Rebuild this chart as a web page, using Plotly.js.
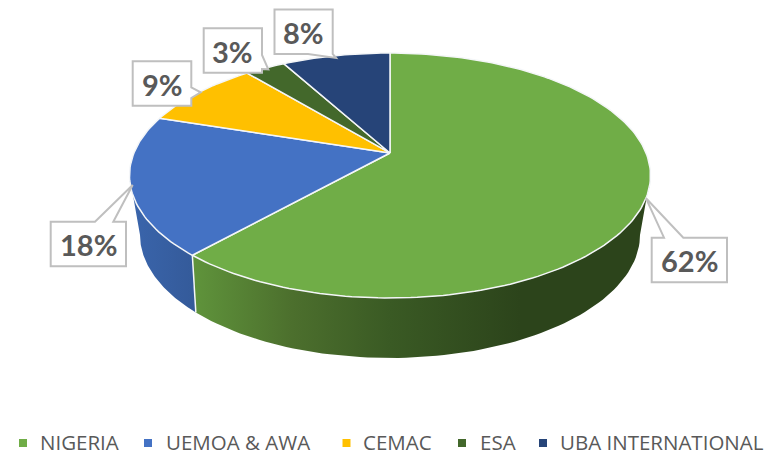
<!DOCTYPE html>
<html><head><meta charset="utf-8">
<script src="https://cdn.plot.ly/plotly-3.0.1.min.js"></script>
<style>html,body{margin:0;padding:0;background:#fff}#c{width:767px;height:452px}</style>
</head><body><div id="c"></div>
<script>
const categories = ["NIGERIA","UEMOA & AWA","CEMAC","ESA","UBA INTERNATIONAL"];
const shares = [61.6,18.4,9,3,8];
const colors = ["#70AD47","#4472C4","#FFC000","#43682B","#264478"];

// projected-disc geometry, in axis units (axes run 1:1 with the page)
const disc = {cx:390, cy:175.5, rx:260.5, ry:122.5};
const base = {cx:390, cy:235, rx:250, ry:123};
const tilt = -0.184;
const TAU = Math.PI*2;
function project(turn){
  const a = turn*TAU, x = Math.sin(a), y = -Math.cos(a);
  const d = 1 + tilt*y;
  return [x*Math.sqrt(1-tilt*tilt)/d, (y+tilt)/d];
}
const px = (e,p)=>[e.cx+e.rx*p[0], e.cy+e.ry*p[1]];
const apex = px(disc,[0,tilt]);
const traces = [];
const total = shares.reduce((a,b)=>a+b,0);
let acc = 0;
const bounds = shares.map(v=>{const s=acc/total; acc+=v; return [s,acc/total];});

function wall(a0,a1,b0,b1,grad){
  const xs=[],ys=[],n=80;
  for(let i=0;i<=n;i++){const t=a0+(a1-a0)*i/n;xs.push(disc.cx+disc.rx*Math.cos(t));ys.push(disc.cy+disc.ry*Math.sin(t));}
  for(let i=n;i>=0;i--){const t=b0+(b1-b0)*i/n;xs.push(base.cx+base.rx*Math.cos(t));ys.push(base.cy+base.ry*Math.sin(t));}
  xs.push(xs[0]);ys.push(ys[0]);
  traces.push({type:"scatter",mode:"lines",x:xs,y:ys,fill:"toself",fillgradient:grad,
    line:{color:"rgba(0,0,0,0)",width:0},showlegend:false,hoverinfo:"skip"});
}
const bp = project(bounds[0][1]);
const bAngle = Math.atan2(bp[1],bp[0]);
const seamT = px(disc,bp);
const baseAngle = Math.acos((seamT[0]+3.5-base.cx)/base.rx);
const seamB = [base.cx+base.rx*Math.cos(baseAngle), base.cy+base.ry*Math.sin(baseAngle)];
wall(bAngle, Math.PI, baseAngle, Math.PI, {type:"horizontal",start:130,stop:197,colorscale:[[0,"#3A65AC"],[1,"#345A99"]]});
wall(0, bAngle, 0, baseAngle, {type:"horizontal",start:195,stop:520,colorscale:[[0,"#5F933B"],[0.3,"#4C6F2D"],[0.6,"#3A5A24"],[1,"#2C441B"]]});
// seam between the two walls
traces.push({type:"scatter",mode:"lines",x:[seamT[0],seamB[0]],y:[seamT[1],seamB[1]],line:{color:"#F4F6F8",width:1.5},showlegend:false,hoverinfo:"skip"});

bounds.forEach((b,i)=>{
  const xs=[apex[0]],ys=[apex[1]],n=Math.max(12,Math.ceil((b[1]-b[0])*300));
  for(let k=0;k<=n;k++){const p=px(disc,project(b[0]+(b[1]-b[0])*k/n));xs.push(p[0]);ys.push(p[1]);}
  xs.push(apex[0]);ys.push(apex[1]);
  traces.push({type:"scatter",mode:"lines",x:xs,y:ys,fill:"toself",fillcolor:colors[i],
    line:{color:"#F4F6F8",width:1.5},name:categories[i],showlegend:false,hoverinfo:"name"});
});

// legend row: swatch centres and text starts
const legendSwatchX = [23,148,346.5,462,543];
const legendTextX = [37.5,163.5,360.5,477.5,558];
traces.push({type:"scatter",mode:"markers",x:legendSwatchX,y:legendSwatchX.map(()=>443),
  marker:{symbol:"square",size:8,color:colors},showlegend:false,hoverinfo:"skip"});

// callouts: box and pointer outlines
const calloutPaths = [
 "M274.5,9.5H332.7V54L336,58L308,54H274.5Z",
 "M203.7,28.3H262V55L268.3,69.3L262,69V72.7H203.7Z",
 "M132.7,61.3H191.3V87.3L200.7,92.3L191.3,98V105.7H132.7Z",
 "M50.7,221.7H95L132.7,185L113.3,221.7H126V266.3H50.7Z",
 "M651.7,237.7H664L646,198.3L683.3,237.7H727V282.3H651.7Z"
];
const calloutCentres = [[303.6,32.5],[232.9,51],[162,84],[88.4,244.5],[689.4,260.5]];
const labels = [shares[4],shares[3],shares[2],shares[1],shares[0]].map(v=>Math.round(v)+"%");

const layout = {
  width:767,height:452,margin:{l:0,r:0,t:0,b:0},paper_bgcolor:"#fff",plot_bgcolor:"#fff",
  xaxis:{range:[0,767],visible:false,fixedrange:true},
  yaxis:{range:[452,0],visible:false,fixedrange:true},
  shapes:calloutPaths.map(p=>({type:"path",path:p,xref:"x",yref:"y",fillcolor:"#fff",line:{color:"#BFBFBF",width:2}})),
  annotations:labels.map((t,i)=>({x:calloutCentres[i][0],y:calloutCentres[i][1],xref:"x",yref:"y",text:"<b>"+t+"</b>",showarrow:false,
    xanchor:"center",yanchor:"middle",font:{family:"Lato, sans-serif",size:29,color:"#595959"}}))
   .concat(categories.map((c,i)=>({x:legendTextX[i],y:442,xref:"x",yref:"y",text:c,showarrow:false,
    xanchor:"left",yanchor:"middle",font:{family:"Open Sans, sans-serif",size:20.5,color:"#595959"}}))),
  showlegend:false
};
Plotly.newPlot("c",traces,layout,{displayModeBar:false,staticPlot:true});
</script></body></html>
